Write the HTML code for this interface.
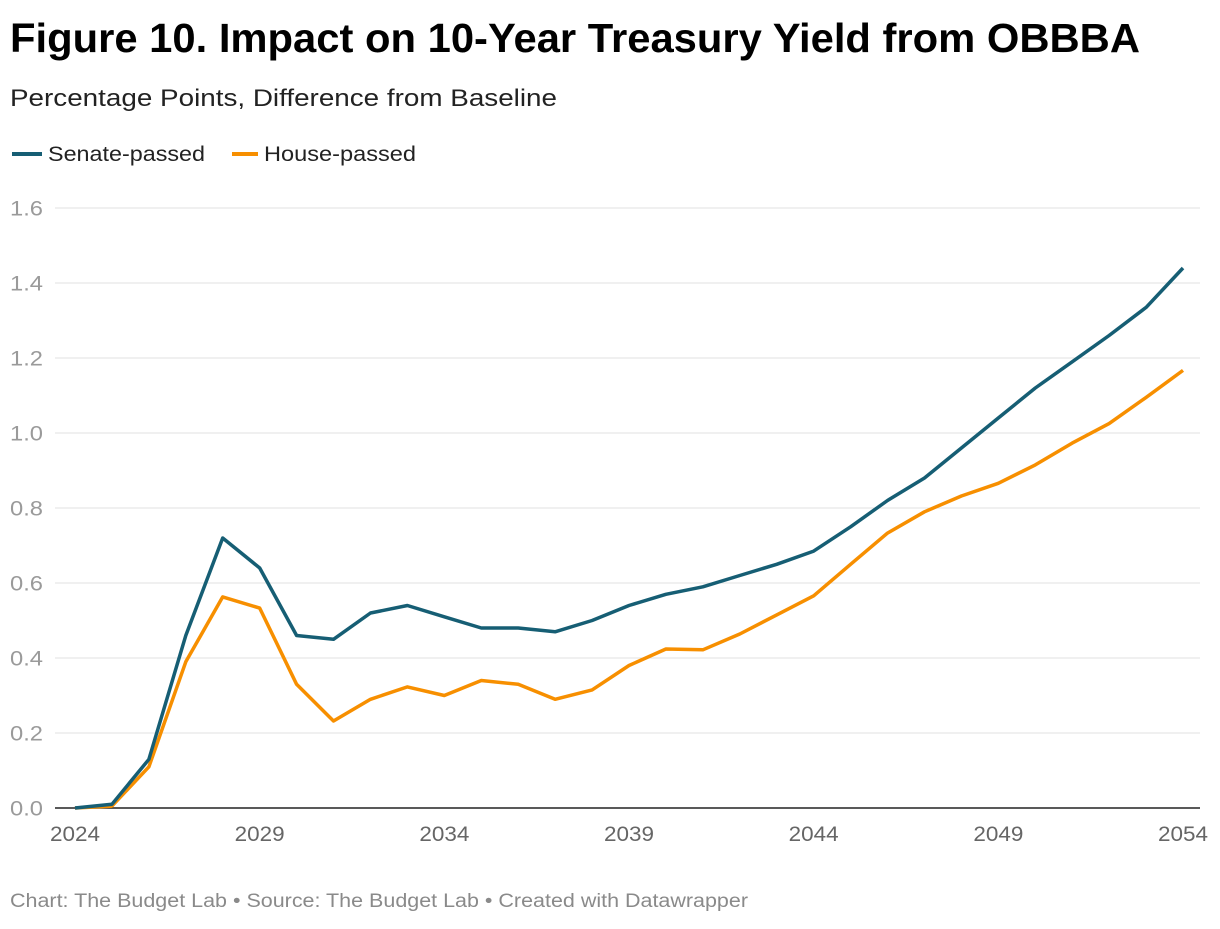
<!DOCTYPE html>
<html><head><meta charset="utf-8"><style>
body{margin:0;width:1220px;height:924px;background:#fff;overflow:hidden}
svg text{font-family:"Liberation Sans",sans-serif}
</style></head><body>
<svg width="1220" height="924">
<text x="10" y="52" font-size="41" font-weight="bold" fill="#000" textLength="1130" lengthAdjust="spacingAndGlyphs">Figure 10. Impact on 10-Year Treasury Yield from OBBBA</text>
<text x="10" y="106" font-size="24" fill="#222" textLength="547" lengthAdjust="spacingAndGlyphs">Percentage Points, Difference from Baseline</text>
<g>
<line x1="12" y1="154" x2="42" y2="154" stroke="#165e74" stroke-width="4"/>
<text x="48" y="161" font-size="21" fill="#222" textLength="157" lengthAdjust="spacingAndGlyphs">Senate-passed</text>
<line x1="232" y1="154" x2="258" y2="154" stroke="#f78f00" stroke-width="4"/>
<text x="264" y="161" font-size="21" fill="#222" textLength="152" lengthAdjust="spacingAndGlyphs">House-passed</text>
</g>
<g id="grid"></g><g id="xaxis"></g><g id="lines"></g>
<text x="10" y="907" font-size="19" fill="#8a8a8a" textLength="738" lengthAdjust="spacingAndGlyphs">Chart: The Budget Lab • Source: The Budget Lab • Created with Datawrapper</text>
</svg>
<script>
const years=[];for(let y=2024;y<=2054;y++)years.push(y);
const senate=[0,0.01,0.13,0.46,0.72,0.64,0.46,0.45,0.52,0.54,0.51,0.48,0.48,0.47,0.50,0.54,0.57,0.59,0.62,0.65,0.685,0.75,0.82,0.88,0.96,1.04,1.12,1.19,1.26,1.335,1.44];
const house=[0,0.005,0.11,0.39,0.563,0.533,0.33,0.232,0.29,0.323,0.30,0.34,0.33,0.29,0.315,0.38,0.424,0.422,0.464,0.515,0.566,0.65,0.733,0.79,0.832,0.866,0.915,0.973,1.025,1.095,1.167];
const yTicks=[0,0.2,0.4,0.6,0.8,1.0,1.2,1.4,1.6];
const xTicks=[2024,2029,2034,2039,2044,2049,2054];
const NS='http://www.w3.org/2000/svg';
const X=v=>75+(v-2024)*(1183-75)/30;
const Y=v=>808-v*375;
function mk(t,a,p){const e=document.createElementNS(NS,t);for(const k in a)e.setAttribute(k,a[k]);p.appendChild(e);return e;}
const g=document.getElementById('grid');
yTicks.forEach(v=>{
 const l=mk('line',{x1:55,x2:1200,y1:Y(v),y2:Y(v),stroke:v===0?'#222':'#e0e0e0','stroke-width':v===0?1.5:1},g);
 
 
 const t=mk('text',{x:10,y:Y(v)+7.5,'font-size':21,fill:'#9a9a9a',textLength:33,lengthAdjust:'spacingAndGlyphs'},g);
 t.textContent=v.toFixed(1);
 
 
});
const xa=document.getElementById('xaxis');
xTicks.forEach(v=>{
 const t=mk('text',{x:X(v)-25,y:841,'font-size':21,fill:'#666',textLength:50,lengthAdjust:'spacingAndGlyphs'},xa);
 t.textContent=v;
 
 
});
const lg=document.getElementById('lines');
[[house,'#f78f00','house-line'],[senate,'#165e74','senate-line']].forEach(([d,c,n])=>{
 const p=mk('path',{d:d.map((v,i)=>(i?'L':'M')+X(years[i]).toFixed(1)+' '+Y(v).toFixed(1)).join(''),fill:'none',stroke:c,'stroke-width':3.5,'stroke-linejoin':'round'},lg);
 
 
});
</script>
</body></html>
